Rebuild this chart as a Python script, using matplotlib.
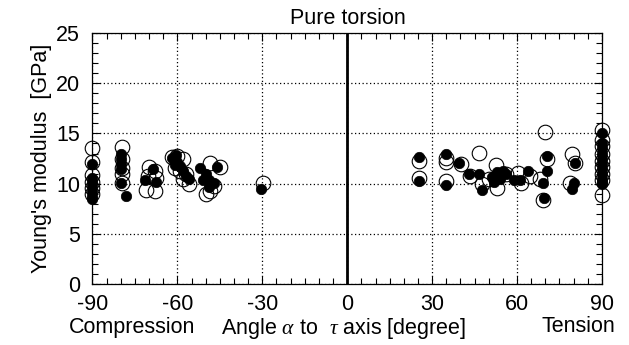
import matplotlib
matplotlib.use("Agg")
import matplotlib.pyplot as plt
from matplotlib.ticker import MultipleLocator

plt.rcParams['font.family'] = ['Liberation Sans', 'DejaVu Sans']
plt.rcParams['mathtext.fontset'] = 'custom'
plt.rcParams['mathtext.it'] = 'Liberation Serif:italic'
plt.rcParams['mathtext.rm'] = 'Liberation Sans'

# Open circles (angle deg, Young's modulus GPa)
open_x = [-90, -90, -90, -90, -90, -90,
          -79.5, -79.5, -79.5, -79.5, -79.5,
          -70, -68, -70.5, -71, -68, -67.5,
          -62, -60, -58, -61, -59, -57, -58, -56,
          -48.5, -45, -50, -48.5, -47,
          -29.7,
          25.5, 25.5, 35, 35, 35, 40.2, 43.5, 46.5, 47.6, 50, 52.6, 53, 56,
          60.4, 61.5, 64.7, 68, 70.7, 69, 70, 79.5, 80.6, 78.8,
          90, 90, 90, 90, 90, 90, 90, 90, 90]
open_y = [13.5, 12.2, 10.9, 10.2, 9.6, 9.0,
          13.6, 12.5, 11.6, 11.0, 10.1,
          11.7, 11.3, 10.8, 9.4, 9.3, 10.6,
          12.7, 12.8, 12.5, 11.6, 11.3, 11.0, 10.5, 10.0,
          12.1, 11.7, 9.0, 9.3, 9.8,
          10.1,
          12.3, 10.6, 12.6, 12.2, 10.3, 12.0, 10.8, 13.1, 10.0, 10.5, 11.9, 9.6, 11.0,
          11.1, 10.1, 10.8, 10.5, 12.5, 8.4, 15.1, 13.0, 12.1, 10.1,
          15.3, 14.3, 13.7, 13.0, 12.3, 11.7, 11.0, 10.4, 8.9]

# Filled circles
fill_x = [-90, -90, -90, -90, -90, -90, -90,
          -80, -80, -80, -80, -80, -78,
          -68.5, -71.5, -67.5,
          -62, -60, -59, -61, -58, -57, -56, -60.5,
          -52, -50, -51, -49, -49, -47, -46,
          -30.4,
          25.5, 25.5, 35, 35, 39.5, 43, 46.5, 47.6, 51, 52, 53, 55, 56, 54,
          59, 61, 64, 69, 70.7, 70.7, 69.5, 80.6, 80, 79.5,
          90, 90, 90, 90, 90, 90, 90, 90, 90, 90, 90]
fill_y = [12.0, 10.6, 10.2, 9.8, 9.3, 8.8, 8.5,
          13.0, 12.5, 12.0, 11.5, 10.1, 8.8,
          11.5, 10.4, 10.2,
          12.6, 12.2, 11.8, 11.9, 11.3, 10.8, 10.5, 12.9,
          11.6, 11.0, 10.4, 9.7, 10.4, 10.1, 11.7,
          9.5,
          12.7, 10.3, 13.0, 9.9, 12.1, 11.0, 11.0, 9.4, 10.7, 10.2, 11.2, 11.3, 11.0, 10.5,
          10.4, 10.4, 11.3, 10.1, 11.3, 12.8, 8.6, 12.1, 10.1, 9.5,
          15.0, 14.0, 13.5, 13.0, 12.5, 12.0, 11.5, 11.0, 10.5, 10.2, 10.0]

x_ticks = [-90, -60, -30, 0, 30, 60, 90]
y_ticks = [0, 5, 10, 15, 20, 25]

FS = 15.5

fig = plt.figure(figsize=(6.29, 3.45), dpi=100)
ax = fig.add_axes([0.147, 0.177, 0.810, 0.727])

ax.set_xlim(-90, 90)
ax.set_ylim(0, 25)
ax.set_xticks(x_ticks)
ax.set_yticks(y_ticks)
ax.set_xticklabels([str(v) for v in x_ticks])
ax.xaxis.set_minor_locator(MultipleLocator(5))
ax.yaxis.set_minor_locator(MultipleLocator(1))
ax.tick_params(which='both', direction='in', top=True, right=True, labelsize=FS,
               width=0.8, color='black')
ax.tick_params(which='major', length=6)
ax.tick_params(which='minor', length=4)
ax.tick_params(axis='x', which='major', pad=7.5)
ax.tick_params(axis='y', which='major', pad=9)
ax.grid(True, which='major', linestyle=(0, (1, 2)), color='black', linewidth=0.9)
ax.set_axisbelow(True)
for s in ax.spines.values():
    s.set_linewidth(0.9)

ax.axvline(0, color='black', linewidth=2, zorder=2)

ax.plot(open_x, open_y, 'o', ms=10.5, mfc='none', mec='black', mew=0.8,
        linestyle='none', zorder=3, clip_on=False)
ax.plot(fill_x, fill_y, 'o', ms=7.5, mfc='black', mec='black', mew=0.5,
        linestyle='none', zorder=4, clip_on=False)

ax.set_ylabel("Young's modulus  [GPa]", fontsize=FS, labelpad=3)
fig.text(0.547, 0.033, r"Angle $\alpha$ to  $\tau$ axis [degree]", fontsize=FS,
         ha='center', va='baseline')
fig.text(0.21, 0.035, "Compression", fontsize=FS, ha='center', va='baseline')
fig.text(0.919, 0.037, "Tension", fontsize=FS, ha='center', va='baseline')
fig.text(0.553, 0.93, "Pure torsion", fontsize=FS, ha='center', va='baseline')

fig.savefig("out.png", dpi=100)
